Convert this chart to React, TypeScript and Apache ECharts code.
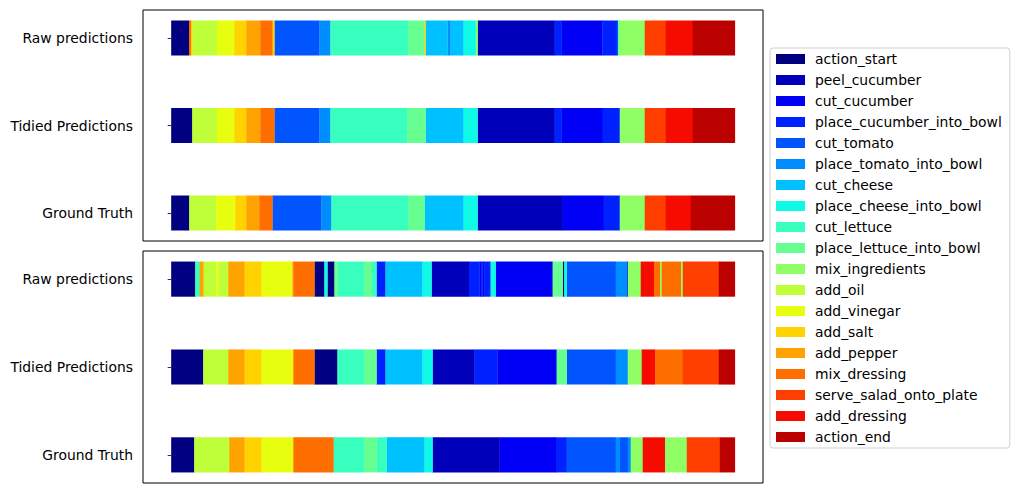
import React, { useEffect, useRef } from "react";
import * as echarts from "echarts";

const classNames = [
  "action_start", "peel_cucumber", "cut_cucumber", "place_cucumber_into_bowl",
  "cut_tomato", "place_tomato_into_bowl", "cut_cheese", "place_cheese_into_bowl",
  "cut_lettuce", "place_lettuce_into_bowl", "mix_ingredients", "add_oil",
  "add_vinegar", "add_salt", "add_pepper", "mix_dressing",
  "serve_salad_onto_plate", "add_dressing", "action_end",
];

const rowNames = ["Ground Truth", "Tidied Predictions", "Raw predictions"];

// segments: [class, end frame] (start = previous end, first start = 0)
const topRaw: [string, number][] = [
  ["action_start", 18], ["mix_dressing", 19.5], ["add_salt", 21], ["add_oil", 45.7],
  ["add_vinegar", 63], ["add_salt", 75], ["add_pepper", 89], ["mix_dressing", 101],
  ["add_salt", 103], ["cut_tomato", 148], ["place_tomato_into_bowl", 159],
  ["cut_lettuce", 236.7], ["place_lettuce_into_bowl", 253], ["add_salt", 254],
  ["cut_cheese", 276], ["place_tomato_into_bowl", 279], ["cut_cheese", 292],
  ["place_cheese_into_bowl", 304.3], ["mix_ingredients", 306], ["peel_cucumber", 383],
  ["place_cucumber_into_bowl", 390], ["cut_cucumber", 430.7],
  ["place_cucumber_into_bowl", 445], ["cut_tomato", 446.3],
  ["place_lettuce_into_bowl", 448], ["mix_ingredients", 473],
  ["serve_salad_onto_plate", 494], ["add_dressing", 521], ["action_end", 563],
];

const topTidied: [string, number][] = [
  ["action_start", 21], ["add_oil", 45.7], ["add_vinegar", 63], ["add_salt", 75],
  ["add_pepper", 89], ["mix_dressing", 103], ["cut_tomato", 148],
  ["place_tomato_into_bowl", 159], ["cut_lettuce", 236], ["place_lettuce_into_bowl", 254],
  ["cut_cheese", 292], ["place_cheese_into_bowl", 306], ["peel_cucumber", 383],
  ["place_cucumber_into_bowl", 390], ["cut_cucumber", 431],
  ["place_cucumber_into_bowl", 448], ["mix_ingredients", 473],
  ["serve_salad_onto_plate", 494], ["add_dressing", 521], ["action_end", 563],
];

const topTruth: [string, number][] = [
  ["action_start", 18], ["add_oil", 45], ["add_vinegar", 64], ["add_salt", 75],
  ["add_pepper", 88], ["mix_dressing", 101], ["cut_tomato", 150],
  ["place_tomato_into_bowl", 160], ["cut_lettuce", 237], ["place_lettuce_into_bowl", 253],
  ["cut_cheese", 292], ["place_cheese_into_bowl", 306], ["peel_cucumber", 391],
  ["cut_cucumber", 432], ["place_cucumber_into_bowl", 448], ["mix_ingredients", 473],
  ["serve_salad_onto_plate", 494], ["add_dressing", 519], ["action_end", 563],
];

const bottomRaw: [string, number][] = [
  ["action_start", 24], ["cut_lettuce", 28.4], ["add_pepper", 32], ["add_oil", 45],
  ["add_vinegar", 47], ["add_oil", 57], ["add_pepper", 73], ["add_salt", 90],
  ["add_vinegar", 121], ["add_pepper", 122], ["mix_dressing", 143],
  ["action_start", 153], ["place_cheese_into_bowl", 156], ["action_start", 163],
  ["place_lettuce_into_bowl", 166], ["cut_lettuce", 193], ["place_lettuce_into_bowl", 200],
  ["cut_lettuce", 205], ["place_cucumber_into_bowl", 214], ["cut_cheese", 251],
  ["place_cheese_into_bowl", 260], ["peel_cucumber", 297.5],
  ["place_cucumber_into_bowl", 308], ["cut_cucumber", 309.5],
  ["place_cucumber_into_bowl", 311], ["cut_cucumber", 313],
  ["place_cucumber_into_bowl", 319], ["place_cheese_into_bowl", 324],
  ["cut_cucumber", 381], ["place_lettuce_into_bowl", 391], ["action_start", 392.6],
  ["place_cheese_into_bowl", 395], ["cut_tomato", 444], ["place_tomato_into_bowl", 455],
  ["cut_cucumber", 456], ["mix_ingredients", 469], ["add_dressing", 482],
  ["mix_dressing", 488], ["mix_ingredients", 490], ["mix_dressing", 509],
  ["mix_ingredients", 511], ["serve_salad_onto_plate", 547], ["action_end", 563],
];

const bottomTidied: [string, number][] = [
  ["action_start", 32], ["add_oil", 57], ["add_pepper", 73], ["add_salt", 90],
  ["add_vinegar", 122], ["mix_dressing", 143], ["action_start", 166],
  ["cut_lettuce", 193], ["place_lettuce_into_bowl", 205], ["place_cucumber_into_bowl", 214],
  ["cut_cheese", 251], ["place_cheese_into_bowl", 261], ["peel_cucumber", 303],
  ["place_cucumber_into_bowl", 326], ["cut_cucumber", 385],
  ["place_lettuce_into_bowl", 395], ["cut_tomato", 444], ["place_tomato_into_bowl", 456],
  ["mix_ingredients", 470], ["add_dressing", 483], ["mix_dressing", 511],
  ["serve_salad_onto_plate", 547], ["action_end", 563],
];

const bottomTruth: [string, number][] = [
  ["action_start", 23], ["add_oil", 58], ["add_pepper", 73], ["add_salt", 90],
  ["add_vinegar", 122], ["mix_dressing", 162], ["cut_lettuce", 193],
  ["place_lettuce_into_bowl", 205], ["cut_lettuce", 215], ["cut_cheese", 253],
  ["place_cheese_into_bowl", 261], ["peel_cucumber", 328], ["cut_cucumber", 385],
  ["place_cucumber_into_bowl", 395], ["cut_tomato", 444], ["place_tomato_into_bowl", 448],
  ["cut_tomato", 456], ["place_tomato_into_bowl", 459], ["mix_ingredients", 471],
  ["add_dressing", 493], ["mix_ingredients", 515], ["serve_salad_onto_plate", 548],
  ["action_end", 563],
];

const totalFrames = 563;

// matplotlib jet colormap
function interp(pts: number[][], x: number) {
  for (let i = 1; i < pts.length; i++) {
    if (x <= pts[i][0]) {
      const [x0, y0] = pts[i - 1];
      const [x1, y1] = pts[i];
      return y0 + ((y1 - y0) * (x - x0)) / (x1 - x0);
    }
  }
  return pts[pts.length - 1][1];
}
function jet(x: number) {
  const idx = Math.min(255, Math.floor(x * 256));
  const v = idx / 255;
  const r = interp([[0, 0], [0.35, 0], [0.66, 1], [0.89, 1], [1, 0.5]], v);
  const g = interp([[0, 0], [0.125, 0], [0.375, 1], [0.64, 1], [0.91, 0], [1, 0]], v);
  const b = interp([[0, 0.5], [0.11, 1], [0.34, 1], [0.65, 0], [1, 0]], v);
  const h = (c: number) => Math.round(c * 255).toString(16).padStart(2, "0");
  return "#" + h(r) + h(g) + h(b);
}
const colors = classNames.map((_, i) => jet(i / 19));

const FONT = "DejaVu Sans";
const FS = 13.9;

function toSegments(rows: [string, number][][]) {
  const out: number[][][] = classNames.map(() => []);
  rows.forEach((segs, rowIdx) => {
    let start = 0;
    segs.forEach(([cls, end]) => {
      out[classNames.indexOf(cls)].push([start, end, rowIdx]);
      start = end;
    });
  });
  return out;
}

export default function App() {
  const ref = useRef<HTMLDivElement>(null);
  useEffect(() => {
    if (!ref.current) return;
    const chart = echarts.init(ref.current, null, { renderer: "svg" });
    const panels = [
      toSegments([topTruth, topTidied, topRaw]),
      toSegments([bottomTruth, bottomTidied, bottomRaw]),
    ];
    const series: any[] = [];
    panels.forEach((perClass, p) => {
      perClass.forEach((data, c) => {
        series.push({
          type: "custom",
          name: classNames[c],
          xAxisIndex: p,
          yAxisIndex: p,
          itemStyle: { color: colors[c] },
          encode: { x: [0, 1], y: 2 },
          data,
          silent: true,
          renderItem: (params: any, api: any) => {
            const s = api.value(0);
            const e = api.value(1);
            const r = api.value(2);
            const p0 = api.coord([s, r]);
            const p1 = api.coord([e, r]);
            const h = api.size([0, 0.4])[1];
            return {
              type: "rect",
              shape: { x: p0[0], y: p0[1] - h / 2, width: p1[0] - p0[0] + 0.3, height: h },
              style: { fill: colors[c] },
            };
          },
        });
      });
    });
    const yAxisBase = (gi: number) => ({
      type: "value",
      gridIndex: gi,
      min: -0.32,
      max: 2.32,
      splitLine: { show: false },
      axisLine: { show: false },
      axisTick: { show: true, length: 3.5, lineStyle: { color: "#000", width: 0.8 }, customValues: [0, 1, 2] },
      axisLabel: {
        customValues: [0, 1, 2],
        formatter: (v: number) => rowNames[Math.round(v)],
        color: "#000",
        fontFamily: FONT,
        fontSize: FS,
        margin: 10,
      },
    });
    const xAxisBase = (gi: number) => ({
      type: "value",
      gridIndex: gi,
      min: -0.05 * totalFrames,
      max: 1.05 * totalFrames,
      show: false,
    });
    chart.setOption({
      animation: false,
      grid: [
        { left: 143, top: 10, width: 620, height: 231, show: true, borderColor: "#000", borderWidth: 1, backgroundColor: "transparent" },
        { left: 143, top: 251, width: 620, height: 232, show: true, borderColor: "#000", borderWidth: 1, backgroundColor: "transparent" },
      ],
      xAxis: [xAxisBase(0), xAxisBase(1)],
      yAxis: [yAxisBase(0), yAxisBase(1)],
      legend: {
        orient: "vertical",
        left: 770,
        top: 48,
        data: classNames,
        icon: "rect",
        itemWidth: 29,
        itemHeight: 10,
        itemGap: 7,
        padding: [4, 8, 4, 6],
        borderColor: "#d0d0d0",
        borderWidth: 1,
        borderRadius: 3,
        backgroundColor: "#fff",
        selectedMode: false,
        textStyle: { fontFamily: FONT, fontSize: FS, color: "#000", lineHeight: 14, padding: [0, 0, 0, 5] },
      },
      series,
    });
    return () => chart.dispose();
  }, []);
  return (
    <div
      ref={ref}
      style={{ position: "absolute", left: 0, top: 0, width: 1016, height: 502, background: "#fff" }}
    />
  );
}
